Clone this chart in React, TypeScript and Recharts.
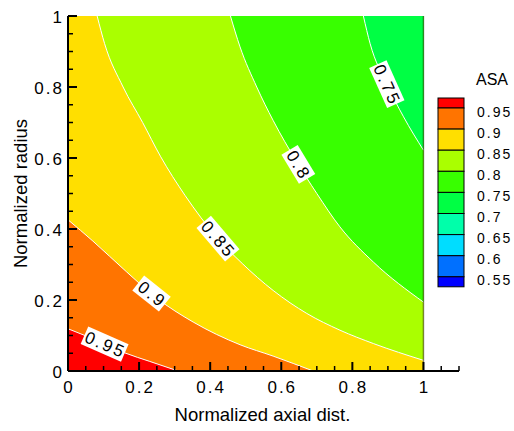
import React from 'react';
import { ComposedChart, Area, Line, Scatter, XAxis, YAxis } from 'recharts';

type Pt = { x: number; y: number };

// ASA contour levels (legend order) and the colour of each band, highest band first
const levels = ['0.95', '0.9', '0.85', '0.8', '0.75', '0.7', '0.65', '0.6', '0.55'];
const bandColors = ['#ff0000', '#ff7400', '#ffdf00', '#aaff00', '#38ff00', '#00ff44', '#00ffaa', '#00ddff', '#0070ff', '#0000ff'];

// iso-lines: x = normalized axial dist., y = normalized radius
const contour095: Pt[] = [
  { x: 0, y: 0.119 }, { x: 0.05, y: 0.099 }, { x: 0.1, y: 0.077 }, { x: 0.16, y: 0.051 },
  { x: 0.23, y: 0.027 }, { x: 0.31, y: 0 },
];
const contour090: Pt[] = [
  { x: 0, y: 0.426 }, { x: 0.07, y: 0.366 }, { x: 0.164, y: 0.28 }, { x: 0.25, y: 0.205 },
  { x: 0.352, y: 0.138 }, { x: 0.484, y: 0.074 }, { x: 0.577, y: 0.042 }, { x: 0.69, y: 0 },
];
const contour085: Pt[] = [
  { x: 0.082, y: 1 }, { x: 0.103, y: 0.922 }, { x: 0.155, y: 0.8 }, { x: 0.21, y: 0.7 },
  { x: 0.26, y: 0.605 }, { x: 0.329, y: 0.495 }, { x: 0.42, y: 0.375 }, { x: 0.49, y: 0.303 },
  { x: 0.577, y: 0.227 }, { x: 0.672, y: 0.162 }, { x: 0.765, y: 0.115 }, { x: 0.86, y: 0.077 },
  { x: 1, y: 0.03 },
];
const contour080: Pt[] = [
  { x: 0.457, y: 1 }, { x: 0.484, y: 0.913 }, { x: 0.531, y: 0.8 }, { x: 0.577, y: 0.706 },
  { x: 0.643, y: 0.59 }, { x: 0.7, y: 0.5 }, { x: 0.765, y: 0.406 }, { x: 0.859, y: 0.307 },
  { x: 1, y: 0.194 },
];
const contour075: Pt[] = [
  { x: 0.831, y: 1 }, { x: 0.85, y: 0.922 }, { x: 0.897, y: 0.808 }, { x: 0.944, y: 0.716 },
  { x: 1, y: 0.622 },
];

// the computed domain, filled with the 0.85-0.9 band before the other bands go on top
const domainTop: Pt[] = [{ x: 0, y: 1 }, { x: 1, y: 1 }];
const domainEdge: Pt[] = [{ x: 1, y: 0 }, { x: 1, y: 1 }];

const xTicks = [0, 0.05, 0.1, 0.15, 0.2, 0.25, 0.3, 0.35, 0.4, 0.45, 0.5, 0.55, 0.6, 0.65, 0.7, 0.75, 0.8, 0.85, 0.9, 0.95, 1, 1.05, 1.1];
const yTicks = [0, 0.05, 0.1, 0.15, 0.2, 0.25, 0.3, 0.35, 0.4, 0.45, 0.5, 0.55, 0.6, 0.65, 0.7, 0.75, 0.8, 0.85, 0.9, 0.95, 1];
const tickLabels = ['0', '0.2', '0.4', '0.6', '0.8', '1'];

// where along each line its inline label sits (axial position)
const inlineLabels = [
  { text: '0.95', line: contour095, at: 0.103 },
  { text: '0.9', line: contour090, at: 0.235 },
  { text: '0.85', line: contour085, at: 0.422 },
  { text: '0.8', line: contour080, at: 0.648 },
  { text: '0.75', line: contour075, at: 0.897 },
];

const FONT = '"Liberation Sans", Arial, Helvetica, sans-serif';

// linear read-off of a polyline
function yOn(line: Pt[], x: number) {
  const cx = Math.min(Math.max(x, line[0].x), line[line.length - 1].x);
  for (let i = 0; i < line.length - 1; i++) {
    const a = line[i];
    const b = line[i + 1];
    if (cx >= a.x && cx <= b.x) return a.y + ((b.y - a.y) * (cx - a.x)) / (b.x - a.x);
  }
  return line[0].y;
}

// label anchor plus text angle from a central difference (both axes use the same px per unit)
function pointOn(line: Pt[], x: number) {
  const h = 0.05;
  const slope = (yOn(line, x + h) - yOn(line, x - h)) / (2 * h);
  return { x, y: yOn(line, x), angle: (Math.atan(-slope) * 180) / Math.PI };
}

const labelPoints = inlineLabels.map((l) => ({ ...pointOn(l.line, l.at), text: l.text }));

const tickText = (v: number) => {
  const s = String(v);
  return tickLabels.includes(s) ? s : null;
};

const XTick = (props: any) => {
  const { x, y, payload } = props;
  const label = tickText(payload.value);
  return (
    <g>
      <line x1={x} x2={x} y1={y} y2={y - (label ? 9 : 5)} stroke="#000" strokeWidth={label ? 2 : 1.5} />
      {label && (
        <text x={x + 1} y={y + 22} textAnchor="middle" fontSize={17} letterSpacing={2} fontFamily={FONT} fill="#000">
          {label}
        </text>
      )}
    </g>
  );
};

const YTick = (props: any) => {
  const { x, y, payload } = props;
  const label = tickText(payload.value);
  return (
    <g>
      <line x1={x} x2={x + (label ? 9 : 5)} y1={y} y2={y} stroke="#000" strokeWidth={label ? 2 : 1.5} />
      {label && (
        <text x={x - 4} y={y + 6.5} textAnchor="end" fontSize={17} letterSpacing={2} fontFamily={FONT} fill="#000">
          {label}
        </text>
      )}
    </g>
  );
};

const ContourLabel = (props: any) => {
  const { cx, cy, payload } = props;
  const w = payload.text.length * 10 + 4;
  return (
    <g transform={`translate(${cx},${cy}) rotate(${payload.angle})`}>
      <rect x={-w / 2} y={-9.5} width={w} height={19} fill="#fff" />
      <text x={1} y={6} textAnchor="middle" fontSize={17} letterSpacing={2.5} fontFamily={FONT} fill="#000">
        {payload.text}
      </text>
    </g>
  );
};

const ColorBar = () => {
  const left = 438;
  const top = 98;
  const half = 10;
  const step = 21.1;
  const bands = bandColors.map((c, i) => {
    const y0 = i === 0 ? top : top + half + (i - 1) * step;
    const h = i === 0 || i === bandColors.length - 1 ? half : step;
    return <rect key={c} x={left} y={y0} width={26} height={h} fill={c} stroke="#000" strokeWidth={1} />;
  });
  return (
    <g>
      <text x={476} y={85} fontSize={16} fontFamily={FONT} fill="#000">ASA</text>
      {bands}
      {levels.map((lv, i) => (
        <text key={lv} x={477} y={top + half + i * step + 8.5} fontSize={14} letterSpacing={2} fontFamily={FONT} fill="#000">
          {lv}
        </text>
      ))}
    </g>
  );
};

export default function App() {
  return (
    <div style={{ position: 'absolute', left: 0, top: 0, width: 514, height: 431, background: '#fff' }}>
      <ComposedChart width={514} height={431} margin={{ top: 16, right: 55, bottom: 0, left: 8 }}>
        <XAxis
          dataKey="x"
          type="number"
          domain={[0, 1.1]}
          ticks={xTicks}
          interval={0}
          height={60}
          tickSize={0}
          tickMargin={0}
          tickLine={false}
          tick={<XTick />}
          axisLine={{ stroke: '#000', strokeWidth: 2 }}
        />
        <YAxis
          dataKey="y"
          type="number"
          domain={[0, 1]}
          ticks={yTicks}
          interval={0}
          width={60}
          tickSize={0}
          tickMargin={0}
          tickLine={false}
          tick={<YTick />}
          axisLine={{ stroke: '#000', strokeWidth: 2 }}
        />

        <Area data={domainTop} dataKey="y" type="linear" fill={bandColors[2]} fillOpacity={1} stroke="none" isAnimationActive={false} dot={false} activeDot={false} />
        <Area data={contour085} dataKey="y" type="monotone" baseValue={1} fill={bandColors[3]} fillOpacity={1} stroke="none" isAnimationActive={false} dot={false} activeDot={false} />
        <Area data={contour080} dataKey="y" type="monotone" baseValue={1} fill={bandColors[4]} fillOpacity={1} stroke="none" isAnimationActive={false} dot={false} activeDot={false} />
        <Area data={contour075} dataKey="y" type="monotone" baseValue={1} fill={bandColors[5]} fillOpacity={1} stroke="none" isAnimationActive={false} dot={false} activeDot={false} />
        <Area data={contour090} dataKey="y" type="monotone" fill={bandColors[1]} fillOpacity={1} stroke="none" isAnimationActive={false} dot={false} activeDot={false} />
        <Area data={contour095} dataKey="y" type="monotone" fill={bandColors[0]} fillOpacity={1} stroke="none" isAnimationActive={false} dot={false} activeDot={false} />

        {[contour095, contour090, contour085, contour080, contour075].map((c, i) => (
          <Line key={i} data={c} dataKey="y" type="monotone" stroke="#fff" strokeWidth={1} dot={false} activeDot={false} isAnimationActive={false} />
        ))}
        <Line data={domainEdge} dataKey="y" type="linear" stroke="#000" strokeOpacity={0.45} strokeWidth={1.5} dot={false} activeDot={false} isAnimationActive={false} />

        <Scatter data={labelPoints} dataKey="y" shape={(p: any) => <ContourLabel {...p} />} isAnimationActive={false} />
      </ComposedChart>

      <svg width={514} height={431} style={{ position: 'absolute', left: 0, top: 0, pointerEvents: 'none' }}>
        <text x={262.5} y={420.5} textAnchor="middle" fontSize={18.5} fontFamily={FONT} fill="#000">
          Normalized axial dist.
        </text>
        <text transform="translate(27,193.5) rotate(-90)" textAnchor="middle" fontSize={18.5} fontFamily={FONT} fill="#000">
          Normalized radius
        </text>
        <ColorBar />
      </svg>
    </div>
  );
}
